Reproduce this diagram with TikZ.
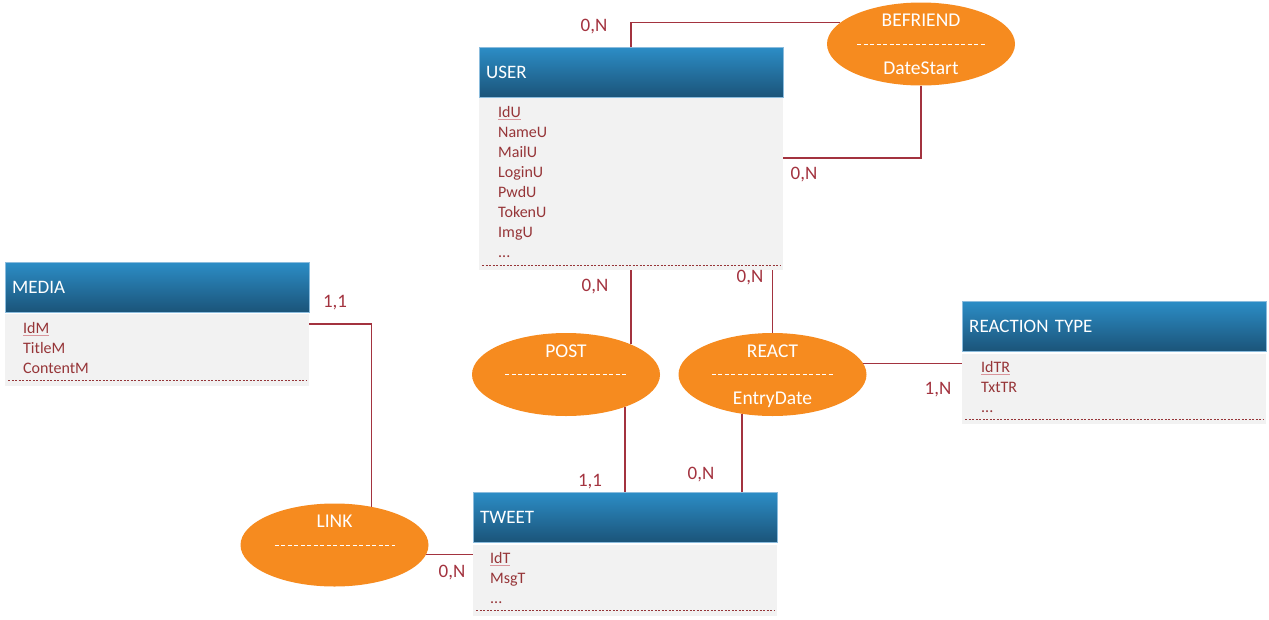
\documentclass[tikz,border=0pt]{standalone}
\usepackage{fontspec}
\setmainfont{Carlito}
\usetikzlibrary{shapes.geometric}

\definecolor{headtop}{HTML}{2C8DC6}
\definecolor{headbot}{HTML}{1B5479}
\definecolor{headedge}{HTML}{8BBCDD}
\definecolor{bodygray}{HTML}{F2F2F2}
\definecolor{relorange}{HTML}{F68B1F}
\definecolor{linkred}{HTML}{A3333F}
\definecolor{attred}{HTML}{963538}
\definecolor{keypink}{HTML}{D9959B}

\newcommand{\pk}[1]{{\color{keypink}\underline{\color{attred}#1}}}

\tikzset{
  entity/.style={anchor=north west, minimum width=304pt, minimum height=50pt,
    top color=headtop, bottom color=headbot, draw=headedge, line width=0.4pt,
    text=white, font=\fontsize{19}{23}\selectfont, text width=290pt, align=left,
    inner xsep=7pt, text height=12.2pt, text depth=0pt},
  entitybody/.style={anchor=north west, fill=bodygray, minimum width=304pt, inner sep=0pt},
  attrlist/.style={anchor=north west, text=attred, font=\fontsize{16}{20}\selectfont,
    align=left, inner sep=0pt},
  relation/.style={ellipse, fill=relorange, minimum width=188pt, minimum height=83pt, inner sep=0pt},
  reltext/.style={text=white, font=\fontsize{19.5}{23}\selectfont, inner sep=0pt,
    text height=12.5pt, text depth=0pt},
  card/.style={text=linkred, font=\fontsize{19}{23}\selectfont, inner sep=0pt,
    text height=12.2pt, text depth=0pt},
  link/.style={draw=linkred, line width=1.7pt},
  endline/.style={draw=attred, dash pattern=on 2.2pt off 1.3pt, line width=0.9pt},
  sepline/.style={draw=white, dash pattern=on 4.4pt off 2.1pt, line width=0.8pt}
}

\begin{document}
\begin{tikzpicture}[x=1pt,y=-1pt]
  \useasboundingbox (0,0) rectangle (1269,619);

  % Entitaeten
  \node[entity] (user) at (479,47) {USER};
  \node[entitybody, minimum height=172pt] (userbody) at (479,98) {};
  \node[attrlist] (userattr) at (498,106)
    {\pk{IdU}\\NameU\\MailU\\LoginU\\PwdU\\TokenU\\ImgU\\...};
  \draw[endline] ([shift={(3pt,5pt)}]userbody.south west) -- ([shift={(-3pt,5pt)}]userbody.south east);

  \node[entity] (media) at (5,262) {MEDIA};
  \node[entitybody, minimum height=72pt] (mediabody) at (5,314) {};
  \node[attrlist] (mediaattr) at (23,322) {\pk{IdM}\\TitleM\\ContentM};
  \draw[endline] ([shift={(3pt,6pt)}]mediabody.south west) -- ([shift={(-3pt,6pt)}]mediabody.south east);

  \node[entity] (tweet) at (473,492) {TWEET};
  \node[entitybody, minimum height=71pt] (tweetbody) at (473,545) {};
  \node[attrlist] (tweetattr) at (490,552) {\pk{IdT}\\MsgT\\...};
  \draw[endline] ([shift={(3pt,6pt)}]tweetbody.south west) -- ([shift={(-3pt,6pt)}]tweetbody.south east);

  \node[entity] (rtype) at (962,301) {REACTION TYPE};
  \node[entitybody, minimum height=70pt] (rtypebody) at (962,354) {};
  \node[attrlist] (rtypeattr) at (981,361) {\pk{IdTR}\\TxtTR\\...};
  \draw[endline] ([shift={(3pt,5pt)}]rtypebody.south west) -- ([shift={(-3pt,5pt)}]rtypebody.south east);

  % Assoziationen
  \node[relation] (befriend) at (921,44) {};
  \node[reltext] (befriendname) at ([yshift=24pt]befriend.center) {BEFRIEND};
  \node[reltext] (befriendattr) at ([yshift=-24pt]befriend.center) {DateStart};
  \draw[sepline] ([xshift=-64pt]befriend.center) -- ([xshift=64pt]befriend.center);

  \node[relation] (post) at (566,374.5) {};
  \node[reltext] (postname) at ([yshift=23.5pt]post.center) {POST};
  \draw[sepline] ([xshift=-61pt]post.center) -- ([xshift=61pt]post.center);

  \node[relation] (react) at (772.5,374.5) {};
  \node[reltext] (reactname) at ([yshift=23.5pt]react.center) {REACT};
  \node[reltext] (reactattr) at ([yshift=-23.5pt]react.center) {EntryDate};
  \draw[sepline] ([xshift=-61pt]react.center) -- ([xshift=61pt]react.center);

  \node[relation] (link) at (334.5,545) {};
  \node[reltext] (linkname) at ([yshift=24pt]link.center) {LINK};
  \draw[sepline] ([xshift=-60pt]link.center) -- ([xshift=60pt]link.center);

  % Verbindungen
  \draw[link] (user.north) |- (befriend.165);
  \draw[link] ([yshift=26pt]userbody.east) -| (befriend.south);
  \draw[link] (userbody.south) -- (userbody.south |- post.25);
  \draw[link] (tweet.north |- post.-29) -- (tweet.north);
  \draw[link] (react.north) -- (react.north |- userbody.south);
  \draw[link] (react.-128) -- (react.-128 |- tweet.north);
  \draw[link] (react.7) -- (react.7 -| rtypebody.west);
  \draw[link] ([yshift=26pt]mediabody.east) -| (link.46);
  \draw[link] (link.-6) -- (link.-6 -| tweetbody.west);

  % Kardinalitaeten
  \node[card] (cardbefrienda) at (594,25) {0,N};
  \node[card] (cardbefriendb) at (804,173) {0,N};
  \node[card] (cardposta) at (595,285) {0,N};
  \node[card] (cardpostb) at (590,480) {1,1};
  \node[card] (cardreacta) at (750,276) {0,N};
  \node[card] (cardreactb) at (701,473) {0,N};
  \node[card] (cardreactc) at (938,388) {1,N};
  \node[card] (cardlinka) at (335,301) {1,1};
  \node[card] (cardlinkb) at (452,571) {0,N};
\end{tikzpicture}
\end{document}
